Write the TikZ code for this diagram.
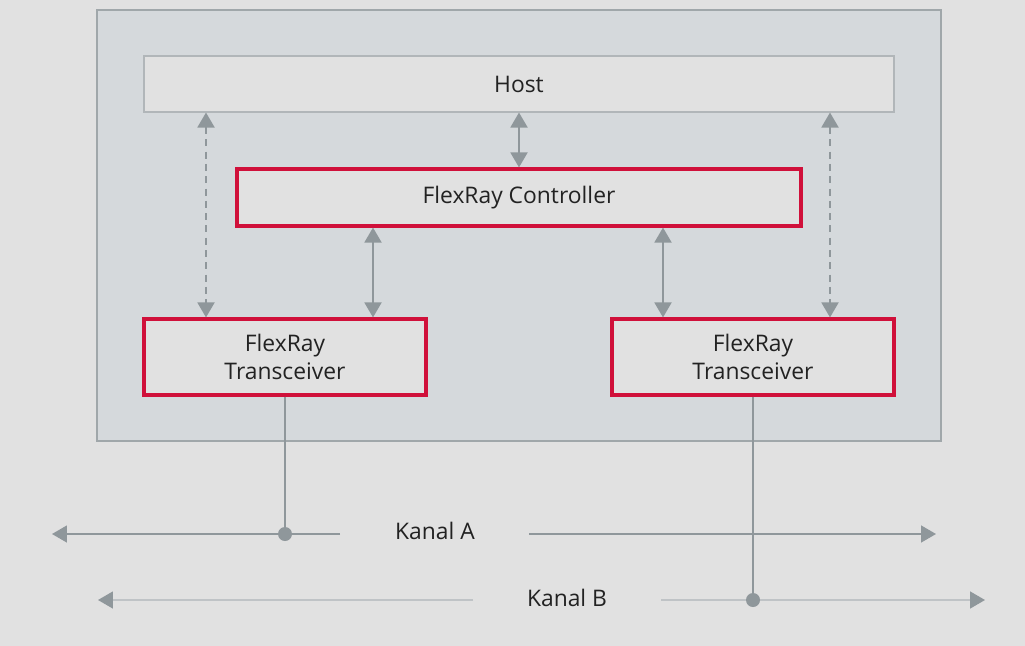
\documentclass[tikz,border=0pt]{standalone}
\usepackage{fontspec}
\setmainfont{Open Sans}
\usetikzlibrary{arrows.meta}
\definecolor{bggray}{HTML}{E1E1E1}
\definecolor{ecugray}{HTML}{D5D9DC}
\definecolor{linegray}{HTML}{8F979B}
\definecolor{busgray}{HTML}{BFC3C6}
\definecolor{frred}{HTML}{D0103A}
\definecolor{txt}{HTML}{222222}
\tikzstyle{hostbox}=[draw=linegray!70,fill=bggray,line width=0.6pt,
                     minimum width=750*0.02cm,minimum height=56*0.02cm,
                     inner sep=0pt,text=txt,font=\fontsize{13}{16}\selectfont]
\tikzstyle{redbox}=[draw=frred,fill=bggray,line width=1.8pt,
                    inner sep=0pt,align=center,text=txt,
                    font=\fontsize{13}{16}\selectfont]
\tikzstyle{link}=[linegray,line width=1.1pt,
                  {Triangle[length=0.3cm,width=0.34cm]}-{Triangle[length=0.3cm,width=0.34cm]}]
\tikzstyle{dlink}=[link,dash pattern=on 4pt off 3pt]
\tikzstyle{bustip}=[-{Triangle[length=0.3cm,width=0.34cm,color=linegray]}]
\tikzstyle{tap}=[circle,fill=linegray,inner sep=0pt,minimum size=14*0.02cm]
\tikzstyle{kanal}=[text=txt,font=\fontsize{13}{16}\selectfont]

\begin{document}
\begin{tikzpicture}[x=0.02cm,y=-0.02cm]
    \fill[bggray] (0,0) rectangle (1025,646);
    \useasboundingbox (0,0) rectangle (1025,646);
    % ECU frame
    \draw[draw=linegray!85,fill=ecugray,line width=0.85pt] (97,10) rectangle (941,441);
    \node (host) at (519,84) [hostbox]{Host};
    \node (ctrl) at (519,197.5) [redbox,minimum width=564*0.02cm,minimum height=57*0.02cm]{FlexRay Controller};
    \node (trA) at (285,357) [redbox,minimum width=282*0.02cm,minimum height=76*0.02cm]{FlexRay\\Transceiver};
    \node (trB) at (753,357) [redbox,minimum width=282*0.02cm,minimum height=76*0.02cm]{FlexRay\\Transceiver};
    \draw[link] (host.south) -- (ctrl.north);
    \draw[dlink] (host.south -| 206,0) -- (trA.north -| 206,0);
    \draw[dlink] (host.south -| 830,0) -- (trB.north -| 830,0);
    \draw[link] (ctrl.south -| 373,0) -- (trA.north -| 373,0);
    \draw[link] (ctrl.south -| 663,0) -- (trB.north -| 663,0);
    % channels
    \node (kanalA) at (435,531) [kanal]{Kanal A};
    \node (kanalB) at (567,598) [kanal]{Kanal B};
    \coordinate (a1) at (340,534);
    \coordinate (a2) at (529,534);
    \coordinate (b1) at (473,600);
    \coordinate (b2) at (661,600);
    \draw[linegray,line width=0.85pt,bustip] (a1) -- (52,534);
    \draw[linegray,line width=0.85pt,bustip] (a2) -- (936,534);
    \draw[busgray,line width=0.85pt,bustip] (b1) -- (98,600);
    \draw[busgray,line width=0.85pt,bustip] (b2) -- (985,600);
    \node (dotA) at (285,534) [tap]{};
    \node (dotB) at (753,600) [tap]{};
    \draw[linegray,line width=0.85pt] (trA.south) -- (dotA);
    \draw[linegray,line width=0.85pt] (trB.south) -- (dotB);
\end{tikzpicture}
\end{document}
